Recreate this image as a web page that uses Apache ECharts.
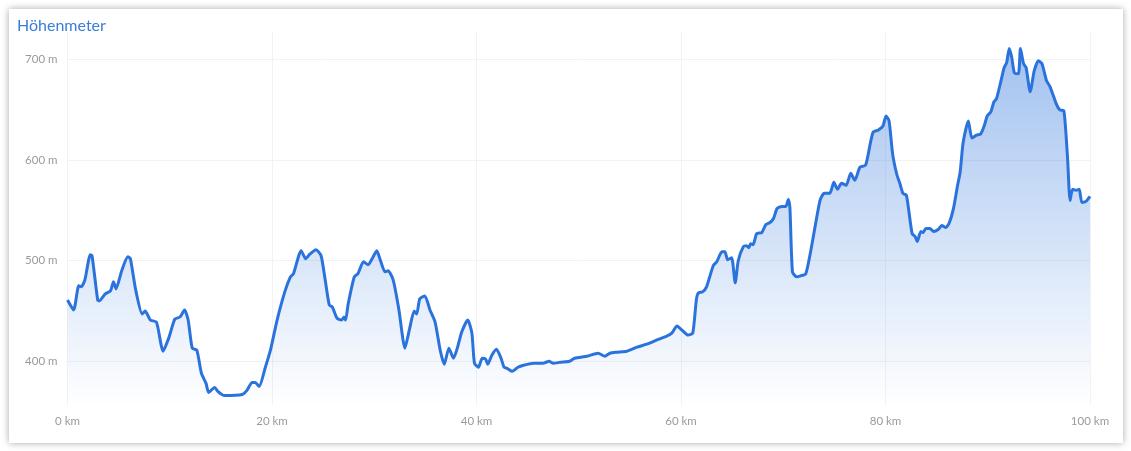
<!DOCTYPE html>
<html>
<head>
<meta charset="utf-8">
<script src="https://cdn.jsdelivr.net/npm/echarts@6/dist/echarts.min.js"></script>
<style>
html,body{margin:0;padding:0;background:#fff;width:1131px;height:451px;overflow:hidden;}
#card{position:absolute;left:9px;top:9px;width:1114px;height:434px;background:#fff;box-shadow:0 0 7px rgba(0,0,0,0.35);}
#chart{position:absolute;left:0;top:0;width:1131px;height:451px;}
</style>
</head>
<body>
<div id="card"></div>
<div id="chart"></div>
<script>
const titleText = 'Höhenmeter';
const xTicks = [0, 20, 40, 60, 80, 100];
const yTicks = [400, 500, 600, 700];
const km = [0.0,0.6,1.1,1.35,1.7,2.23,2.4,2.95,3.1,3.7,4.2,4.5,4.75,5.3,5.9,6.15,6.65,7.3,7.6,8.1,8.7,9.35,9.9,10.5,11.0,11.45,11.8,12.2,12.65,13.1,13.55,13.8,14.4,14.7,15.3,17.1,17.55,18.05,18.35,18.75,19.35,19.85,20.5,21.25,21.8,22.1,22.85,23.3,23.65,24.3,24.8,25.2,25.6,25.9,26.35,26.8,27.05,27.2,27.45,28.05,28.4,28.95,29.4,29.9,30.25,30.55,31.05,31.35,31.85,32.4,33.0,33.45,33.9,34.15,34.45,34.95,35.45,35.95,36.45,36.85,37.3,37.75,38.15,38.55,39.15,39.55,39.8,40.2,40.55,40.9,41.1,41.5,41.95,42.4,42.7,43.0,43.5,44.05,44.6,45.6,46.5,47.1,47.5,48.2,49.1,49.6,50.8,51.9,52.55,53.05,53.7,54.7,55.7,56.65,57.6,58.6,59.1,59.6,60.1,60.7,61.15,61.5,61.7,62.1,62.5,63.15,63.5,64.0,64.3,64.55,64.95,65.3,65.6,66.1,66.4,66.65,66.8,67.05,67.4,67.9,68.3,68.7,69.05,69.4,69.85,70.25,70.5,70.65,70.9,71.3,71.7,72.2,72.6,73.1,73.6,74.0,74.55,74.95,75.3,75.7,76.15,76.6,77.0,77.5,78.05,78.5,78.8,79.3,79.75,80.05,80.35,80.7,81.1,81.4,81.7,82.05,82.6,82.9,83.1,83.45,83.65,83.95,84.35,84.7,85.15,85.5,85.9,86.25,86.65,87.05,87.3,87.6,88.1,88.45,88.9,89.3,89.65,89.95,90.3,90.6,90.85,91.25,91.6,91.85,92.1,92.35,92.6,93.0,93.2,93.5,93.75,94.15,94.55,94.95,95.3,95.75,96.1,96.7,97.05,97.45,97.8,98.05,98.3,98.65,98.95,99.2,99.6,100.0];
const elevation = [461,451,475,474,481,506,505,461,460,467,470,479,472,490,504,502,472,447,450,441,439,410,423,442,444,451,441,413,411,388,378,369,374,370,366,367,371,379,379,375,394,411,441,469,484,487,510,502,506,511,505,481,456,454,443,441,444,441,457,484,487,499,496,504,510,502,489,490,481,452,413,432,450,447,462,465,451,439,411,397,413,403,414,429,441,428,398,394,403,402,397,406,412,403,394,393,390,394,396,398,398,400,398,399,400,403,405,408,405,408,409,410,414,417,421,425,428,435,431,426,428,461,468,469,474,495,499,509,509,501,503,478,500,514,515,513,517,516,527,528,536,538,542,552,554,554,561,553,489,484,485,487,505,533,560,567,567,578,571,577,575,587,580,593,595,616,628,630,634,644,639,606,586,577,567,565,527,524,519,529,528,532,532,529,531,535,533,538,552,575,588,618,639,622,625,626,634,644,648,658,661,677,692,697,711,702,687,686,711,696,692,668,689,699,696,679,673,656,650,649,603,560,571,570,571,558,559,564];

const points = km.map((k, i) => [k, elevation[i]]);
const chart = echarts.init(document.getElementById('chart'), null, {renderer: 'canvas'});
chart.setOption({
  backgroundColor: 'transparent',
  animation: false,
  textStyle: {fontFamily: 'Lato'},
  title: {
    text: titleText, left: 12, top: 13,
    textStyle: {color: '#3a7dd8', fontSize: 16, fontWeight: 'normal', fontFamily: 'Lato'}
  },
  grid: {left: 67.5, right: 41, top: 31.5, bottom: 45.5},
  xAxis: {
    type: 'value', min: 0, max: 100, interval: 20,
    axisLine: {show: false}, axisTick: {show: false},
    axisLabel: {color: '#9a9a9a', fontSize: 11.5, margin: 10, formatter: v => v + ' km', fontFamily: 'Lato'},
    splitLine: {show: true, lineStyle: {color: '#f2f2f2', width: 1}}
  },
  yAxis: {
    type: 'value', min: 356, max: 728,
    axisLine: {show: false},
    axisTick: {show: false, customValues: yTicks},
    axisLabel: {color: '#9a9a9a', fontSize: 11.5, margin: 10, customValues: yTicks, formatter: v => v + ' m', fontFamily: 'Lato'},
    splitLine: {show: true, lineStyle: {color: '#f2f2f2', width: 1}}
  },
  series: [{
    type: 'line',
    data: points,
    smooth: 0.2,
    symbol: 'none',
    lineStyle: {color: '#2b73dc', width: 3},
    itemStyle: {color: '#2b73dc'},
    areaStyle: {
      color: new echarts.graphic.LinearGradient(0, 0, 0, 1, [
        {offset: 0, color: 'rgba(43,115,220,0.62)'},
        {offset: 1, color: 'rgba(43,115,220,0.0)'}
      ])
    }
  }]
});
</script>
</body>
</html>
